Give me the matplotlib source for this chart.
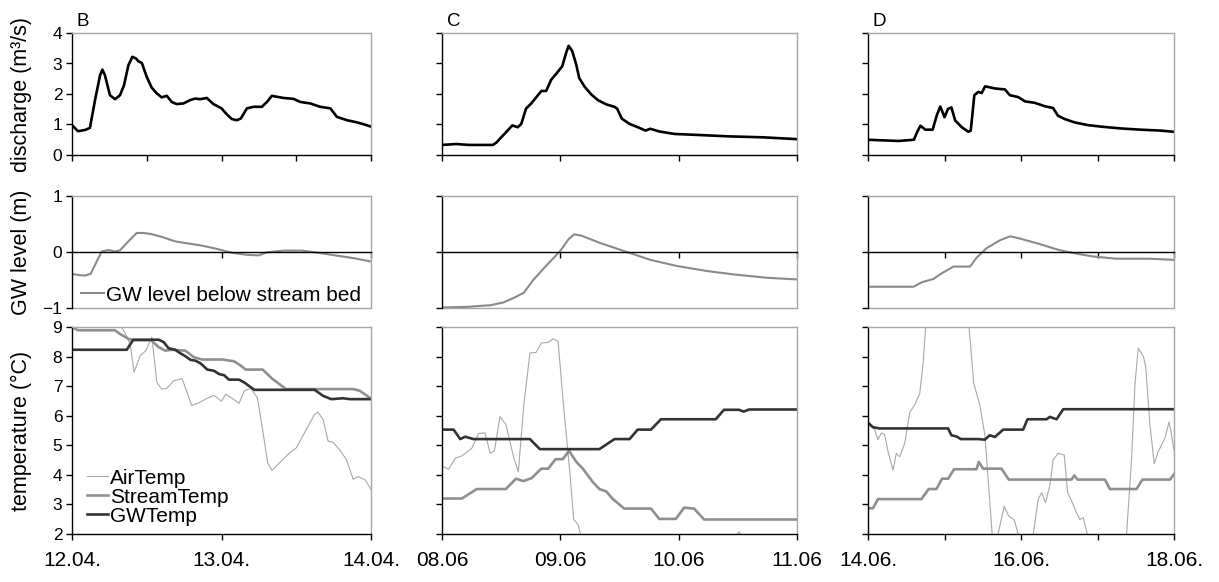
import matplotlib
matplotlib.use("Agg")
import matplotlib.pyplot as plt
import numpy as np

plt.rcParams['font.family'] = ['Liberation Sans', 'DejaVu Sans']

# ---- data (time in days from the first tick of each column) ----
# column B: 12.04. - 14.04.
b_q_t = [0, 0.04, 0.087, 0.12, 0.154, 0.188, 0.203, 0.22, 0.254, 0.288, 0.321, 0.348, 0.377, 0.404,
         0.429, 0.444, 0.467, 0.5, 0.533, 0.567, 0.6, 0.634, 0.667, 0.7, 0.745, 0.79, 0.824, 0.857,
         0.902, 0.946, 1.0, 1.036, 1.069, 1.103, 1.13, 1.17, 1.214, 1.27, 1.304, 1.337, 1.37, 1.415,
         1.482, 1.527, 1.594, 1.66, 1.728, 1.772, 1.84, 1.906, 1.95, 2.0]
b_q = [0.98, 0.78, 0.82, 0.89, 1.8, 2.62, 2.8, 2.62, 1.96, 1.83, 1.96, 2.29, 2.94, 3.22,
       3.16, 3.07, 3.02, 2.56, 2.21, 2.02, 1.89, 1.94, 1.74, 1.67, 1.69, 1.8, 1.85, 1.83,
       1.87, 1.67, 1.53, 1.33, 1.18, 1.14, 1.2, 1.53, 1.58, 1.58, 1.74, 1.94, 1.91, 1.87,
       1.84, 1.74, 1.69, 1.58, 1.53, 1.25, 1.14, 1.07, 1.01, 0.93]
b_gw_t = [0, 0.054, 0.087, 0.125, 0.165, 0.199, 0.243, 0.288, 0.321, 0.377, 0.433, 0.478, 0.533,
          0.612, 0.69, 0.757, 0.857, 0.946, 1.013, 1.08, 1.17, 1.248, 1.304, 1.415, 1.538, 1.638,
          1.772, 1.884, 2.0]
b_gw = [-0.39, -0.415, -0.42, -0.39, -0.17, 0.01, 0.035, 0.01, 0.03, 0.19, 0.34, 0.34, 0.32,
        0.26, 0.19, 0.16, 0.12, 0.07, 0.025, -0.02, -0.05, -0.06, -0.005, 0.025, 0.025, -0.01,
        -0.065, -0.11, -0.17]
b_air_t = [0, 0.02, 0.2, 0.33, 0.36, 0.39, 0.415, 0.456, 0.494, 0.534, 0.568, 0.6, 0.635, 0.68,
           0.736, 0.8, 0.85, 0.893, 0.95, 1.0, 1.028, 1.073, 1.118, 1.152, 1.196, 1.24, 1.275,
           1.309, 1.338, 1.387, 1.455, 1.5, 1.567, 1.623, 1.645, 1.68, 1.713, 1.746, 1.79, 1.836,
           1.881, 1.915, 1.96, 2.0]
b_air = [9.05, 9.15, 9.4, 9.0, 8.75, 8.4, 7.47, 8.03, 8.2, 8.66, 7.12, 6.9, 6.93, 7.18,
         7.26, 6.35, 6.44, 6.56, 6.69, 6.49, 6.73, 6.58, 6.42, 6.84, 6.92, 6.61, 5.53,
         4.4, 4.15, 4.4, 4.74, 4.91, 5.53, 6.05, 6.12, 5.87, 5.14, 5.1, 4.85, 4.51,
         3.85, 3.94, 3.83, 3.51]
b_st_t = [0, 0.04, 0.287, 0.32, 0.377, 0.42, 0.53, 0.579, 0.624, 0.668, 0.758, 0.815, 0.87, 1.006,
          1.084, 1.13, 1.162, 1.275, 1.342, 1.432, 1.881, 1.926, 2.0]
b_st = [9.0, 8.89, 8.89, 8.77, 8.6, 8.55, 8.55, 8.32, 8.2, 8.23, 8.2, 7.98, 7.9, 7.9,
        7.84, 7.69, 7.56, 7.56, 7.24, 6.9, 6.9, 6.84, 6.58]
b_gwt_t = [0, 0.366, 0.41, 0.58, 0.613, 0.646, 0.69, 0.725, 0.759, 0.792, 0.826, 0.86, 0.905, 0.95,
           0.983, 1.017, 1.05, 1.117, 1.152, 1.22, 1.623, 1.68, 1.735, 1.814, 1.859, 2.0]
b_gwt = [8.23, 8.23, 8.57, 8.57, 8.49, 8.28, 8.23, 8.11, 8.01, 7.89, 7.86, 7.77, 7.56, 7.52,
         7.41, 7.37, 7.22, 7.22, 7.125, 6.875, 6.875, 6.67, 6.56, 6.59, 6.56, 6.56]

# column C: 08.06 - 11.06
c_q_t = [0, 0.12, 0.23, 0.43, 0.46, 0.5, 0.54, 0.594, 0.64, 0.67, 0.71, 0.754, 0.8, 0.84, 0.88,
         0.923, 0.965, 1.016, 1.05, 1.07, 1.1, 1.134, 1.16, 1.205, 1.26, 1.317, 1.388, 1.458,
         1.48, 1.52, 1.585, 1.655, 1.72, 1.76, 1.838, 1.965, 2.147, 2.43, 2.71, 3.0]
c_q = [0.33, 0.36, 0.33, 0.33, 0.41, 0.58, 0.74, 0.97, 0.91, 1.02, 1.52, 1.69, 1.91, 2.1, 2.1,
       2.47, 2.66, 2.91, 3.36, 3.58, 3.41, 2.97, 2.52, 2.24, 1.99, 1.8, 1.66, 1.58,
       1.52, 1.19, 1.02, 0.91, 0.8, 0.86, 0.77, 0.69, 0.66, 0.61, 0.58, 0.52]
c_gw_t = [0, 0.21, 0.41, 0.52, 0.606, 0.69, 0.775, 0.887, 1.0, 1.07, 1.118, 1.18, 1.338, 1.535,
          1.76, 1.986, 2.24, 2.465, 2.746, 3.0]
c_gw = [-0.99, -0.98, -0.95, -0.9, -0.82, -0.73, -0.49, -0.23, 0.02, 0.23, 0.315, 0.29, 0.16, 0.02,
        -0.14, -0.25, -0.34, -0.4, -0.46, -0.49]
c_air_t = [0, 0.056, 0.112, 0.168, 0.252, 0.31, 0.364, 0.407, 0.443, 0.49, 0.54, 0.608, 0.645,
           0.692, 0.743, 0.795, 0.84, 0.897, 0.94, 0.981, 1.023, 1.08, 1.113, 1.15, 1.17, 1.2,
           1.3, 2.0, 2.45, 2.51, 2.56, 3.0]
c_air = [4.3, 4.19, 4.56, 4.64, 4.9, 5.4, 5.42, 4.73, 4.81, 5.97, 5.7, 4.56, 4.1,
         6.39, 8.12, 8.14, 8.46, 8.48, 8.6, 8.52, 6.51, 4.1, 2.49, 2.32, 2.0, 1.5,
         1.0, 0.5, 1.8, 2.07, 1.8, 0.5]
c_st_t = [0, 0.168, 0.294, 0.54, 0.625, 0.687, 0.757, 0.84, 0.897, 0.96, 1.02, 1.074, 1.135, 1.19,
          1.276, 1.33, 1.388, 1.444, 1.54, 1.766, 1.836, 1.976, 2.046, 2.13, 2.215, 3.0]
c_st = [3.2, 3.2, 3.52, 3.52, 3.87, 3.79, 3.89, 4.21, 4.21, 4.53, 4.53, 4.81, 4.44, 4.21,
        3.75, 3.52, 3.44, 3.18, 2.86, 2.86, 2.51, 2.51, 2.89, 2.86, 2.49, 2.49]
c_gwt_t = [0, 0.098, 0.154, 0.196, 0.266, 0.743, 0.827, 1.33, 1.458, 1.585, 1.654, 1.766, 1.85,
           2.313, 2.383, 2.51, 2.55, 2.594, 3.0]
c_gwt = [5.53, 5.53, 5.21, 5.29, 5.21, 5.21, 4.87, 4.87, 5.21, 5.21, 5.53, 5.53, 5.88,
         5.88, 6.2, 6.2, 6.14, 6.21, 6.21]

# column D: 14.06. - 18.06.
d_q_t = [0, 0.4, 0.6, 0.64, 0.685, 0.75, 0.845, 0.9, 0.945, 1.0, 1.045, 1.09, 1.14, 1.226, 1.313,
         1.343, 1.39, 1.443, 1.486, 1.53, 1.573, 1.66, 1.79, 1.855, 1.963, 2.05, 2.18, 2.31, 2.42,
         2.483, 2.57, 2.7, 2.873, 3.047, 3.307, 3.567, 3.827, 4.0]
d_q = [0.5, 0.46, 0.5, 0.74, 0.96, 0.83, 0.83, 1.31, 1.59, 1.24, 1.51, 1.56, 1.13, 0.91, 0.76,
       0.8, 1.96, 2.07, 2.03, 2.25, 2.23, 2.18, 2.15, 1.96, 1.9, 1.76, 1.71, 1.6, 1.54,
       1.29, 1.18, 1.07, 0.98, 0.93, 0.87, 0.83, 0.8, 0.76]
d_gw_t = [0, 0.596, 0.705, 0.857, 0.965, 1.117, 1.335, 1.42, 1.552, 1.726, 1.857, 1.987, 2.248,
          2.51, 2.726, 2.943, 3.248, 3.683, 4.0]
d_gw = [-0.62, -0.62, -0.54, -0.48, -0.38, -0.26, -0.26, -0.1, 0.07, 0.21, 0.28, 0.24, 0.14,
        0.03, -0.03, -0.08, -0.12, -0.12, -0.14]
d_air_t = [0, 0.087, 0.13, 0.175, 0.218, 0.262, 0.327, 0.37, 0.414, 0.48, 0.545, 0.61, 0.676, 0.72,
           0.755, 0.85, 1.0, 1.2, 1.32, 1.383, 1.46, 1.527, 1.57, 1.623, 1.66, 1.7, 1.78, 1.84,
           1.91, 1.963, 2.05, 2.16, 2.225, 2.27, 2.32, 2.377, 2.42, 2.486, 2.565, 2.609, 2.66,
           2.726, 2.77, 2.814, 2.866, 3.1, 3.38, 3.446, 3.49, 3.533, 3.6, 3.63, 3.685, 3.742,
           3.795, 3.882, 3.935, 3.96, 4.0]
d_air = [5.82, 5.53, 5.19, 5.42, 5.36, 4.79, 4.16, 4.73, 4.61, 5.07, 6.11, 6.37, 6.74, 7.77,
         9.03, 11.0, 12.0, 10.5, 9.03, 7.08, 6.39, 5.36, 3.87, 2.0, 1.6, 2.0, 2.93, 2.6,
         2.49, 2.0, 1.5, 2.0, 3.18, 3.39, 3.06, 3.64, 4.5, 4.73, 4.67, 3.41, 3.12,
         2.72, 2.49, 2.55, 2.0, 0.5, 2.0, 4.56, 7.08, 8.29, 8.0, 7.66, 5.7, 4.38,
         4.79, 5.24, 5.79, 5.47, 4.84]
d_st_t = [0, 0.065, 0.13, 0.698, 0.794, 0.894, 0.968, 1.047, 1.125, 1.418, 1.448, 1.505, 1.745, 1.84,
          2.66, 2.696, 2.74, 3.097, 3.162, 3.51, 3.586, 3.948, 4.0]
d_st = [2.87, 2.87, 3.18, 3.18, 3.52, 3.52, 3.87, 3.87, 4.19, 4.19, 4.44, 4.21, 4.21, 3.84,
        3.84, 3.98, 3.84, 3.84, 3.52, 3.52, 3.84, 3.84, 4.02]
d_gwt_t = [0, 0.065, 0.153, 1.047, 1.09, 1.156, 1.213, 1.44, 1.527, 1.592, 1.658, 1.767, 2.028,
           2.085, 2.334, 2.377, 2.465, 2.552, 4.0]
d_gwt = [5.76, 5.61, 5.57, 5.57, 5.34, 5.3, 5.21, 5.21, 5.19, 5.34, 5.28, 5.53, 5.53,
         5.88, 5.88, 5.96, 5.88, 6.22, 6.22]

# tick labels
b_labels = ['12.04.', '13.04.', '14.04.']
c_labels = ['08.06', '09.06', '10.06', '11.06']
d_labels = ['14.06.', '', '16.06.', '', '18.06.']

GRAY_BOX = '#a6a6a6'
C_Q = 'black'
C_GW = '#8a8a8a'
C_AIR = '#a8a8a8'
C_ST = '#8f8f8f'
C_GWT = '#333333'

W, H = 1219, 582
fig = plt.figure(figsize=(W / 100, H / 100), dpi=100)


def px_axes(x0, x1, y0, y1):
    return fig.add_axes([x0 / W, 1 - y1 / H, (x1 - x0) / W, (y1 - y0) / H])


def style(ax, span, major, show_y):
    ax.set_xlim(0, span)
    ax.spines['top'].set_color(GRAY_BOX)
    ax.spines['right'].set_color(GRAY_BOX)
    ax.spines['left'].set_color('black')
    ax.spines['bottom'].set_color('black')
    for s in ax.spines.values():
        s.set_linewidth(1.0)
    ax.tick_params(axis='both', direction='out', length=4, width=1, colors='black')
    ax.tick_params(axis='y', labelsize=12.5, pad=3)
    ax.set_xticks(np.arange(0, span + 1e-9, major))
    ax.set_xticklabels([])
    if not show_y:
        ax.set_yticklabels([])


cols = [
    dict(x0=72, x1=371, span=2, qmaj=0.5, labels=b_labels, letter='B',
         q=(b_q_t, b_q), gw=(b_gw_t, b_gw), air=(b_air_t, b_air), st=(b_st_t, b_st),
         gwt=(b_gwt_t, b_gwt)),
    dict(x0=442, x1=797, span=3, qmaj=1, labels=c_labels, letter='C',
         q=(c_q_t, c_q), gw=(c_gw_t, c_gw), air=(c_air_t, c_air), st=(c_st_t, c_st),
         gwt=(c_gwt_t, c_gwt)),
    dict(x0=868, x1=1174, span=4, qmaj=1, labels=d_labels, letter='D',
         q=(d_q_t, d_q), gw=(d_gw_t, d_gw), air=(d_air_t, d_air), st=(d_st_t, d_st),
         gwt=(d_gwt_t, d_gwt)),
]

for i, c in enumerate(cols):
    first = i == 0
    # discharge
    ax1 = px_axes(c['x0'], c['x1'], 33, 155)
    ax1.plot(*c['q'], color=C_Q, lw=1.9)
    ax1.set_ylim(0, 4)
    ax1.set_yticks([0, 1, 2, 3, 4])
    style(ax1, c['span'], c['qmaj'], first)
    ax1.text(0.015, 1.055, c['letter'], transform=ax1.transAxes, fontsize=13.5, va='baseline', ha='left')

    # GW level
    ax2 = px_axes(c['x0'], c['x1'], 196, 308)
    ax2.plot(*c['gw'], color=C_GW, lw=1.5, label='GW level below stream bed')
    ax2.set_ylim(-1, 1)
    ax2.set_yticks([-1, 0, 1])
    style(ax2, c['span'], 1, first)
    ax2.spines['bottom'].set_position(('data', 0))
    ax2.set_xticks(np.arange(1, c['span'] + 1e-9, 1))
    ax2.plot([0, 1], [0, 0], transform=ax2.transAxes, color=GRAY_BOX, lw=1.0, clip_on=False)

    # temperature
    ax3 = px_axes(c['x0'], c['x1'], 327, 534)
    ax3.plot(*c['air'], color=C_AIR, lw=0.8, label='AirTemp')
    ax3.plot(*c['st'], color=C_ST, lw=1.9, label='StreamTemp')
    ax3.plot(*c['gwt'], color=C_GWT, lw=1.9, label='GWTemp')
    ax3.set_ylim(2, 9)
    ax3.set_yticks(range(2, 10))
    style(ax3, c['span'], 1, first)
    ax3.set_xticklabels(c['labels'], fontsize=15)
    ax3.tick_params(axis='x', pad=8)

    if first:
        for ax, lab in [(ax1, 'discharge (m³/s)'), (ax2, 'GW level (m)'), (ax3, 'temperature (°C)')]:
            ax.set_ylabel(lab, fontsize=15.5)
            ax.yaxis.set_label_coords(-0.135, 0.5)
        ax2.legend(loc='lower left', bbox_to_anchor=(0.03, 0.03), frameon=False, fontsize=15,
                   handlelength=1.1, handletextpad=0.1, borderpad=0, borderaxespad=0)
        ax3.legend(loc='lower left', bbox_to_anchor=(0.05, 0.04), frameon=False, fontsize=15,
                   handlelength=1.0, handletextpad=0.1, borderpad=0, borderaxespad=0,
                   labelspacing=0.0)

fig.savefig('out.png', dpi=100)
